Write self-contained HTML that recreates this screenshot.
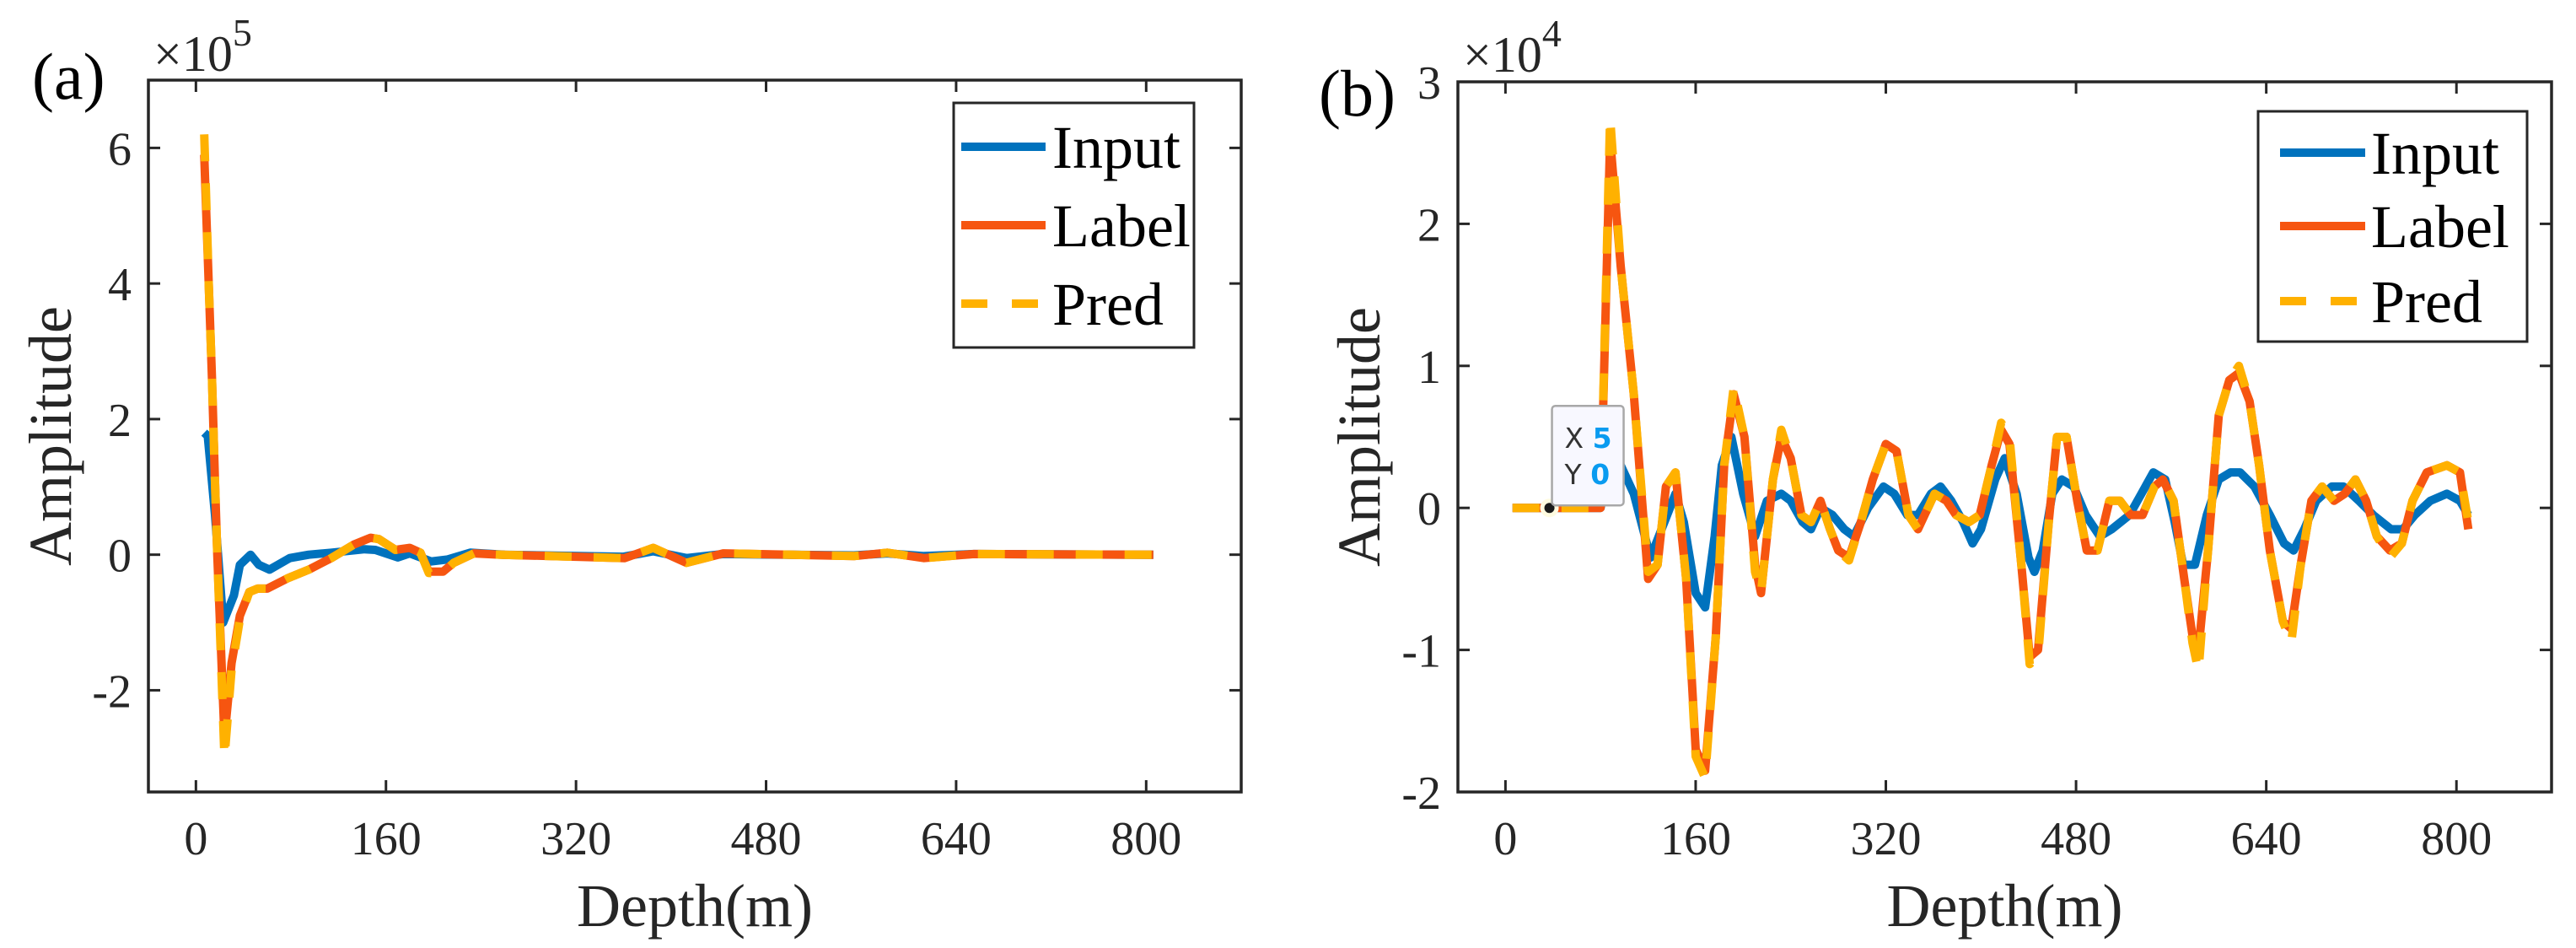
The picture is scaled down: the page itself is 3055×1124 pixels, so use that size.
<!DOCTYPE html>
<html><head><meta charset="utf-8"><style>
html,body{margin:0;padding:0;background:#fff;}
svg{display:block;font-family:"Liberation Serif",serif;}
</style></head>
<body>
<svg id="fig" width="3055" height="1124" viewBox="0 0 3055 1124" xmlns="http://www.w3.org/2000/svg"></svg>
<script>
// ---------- Panel (a) data (units of 1e5) ----------
const depthInputA = [7,10,16,23,32,37,46,53,62,79,95,114,142,151,170,180,198,212,231,260,360,385,413,444,554,582,613,655,806];
const inputA      = [1.8,1.75,0.6,-1.0,-0.6,-0.15,0.0,-0.15,-0.22,-0.05,0,0.03,0.08,0.07,-0.04,0.02,-0.1,-0.07,0.03,0,-0.03,0.05,-0.05,0.01,-0.01,0.02,-0.02,0.01,0];
const depthLabelA = [7,11,13.5,16,18,24,30,37,45,52,60,77,95,114,133,147,154,168,180,189,196,208,217,234,257,361,385,413,444,554,582,613,655,806];
const labelA      = [5.9,3.9,2.6,1.1,0.0,-2.7,-1.6,-0.9,-0.55,-0.5,-0.5,-0.35,-0.22,-0.05,0.15,0.25,0.23,0.07,0.1,0.03,-0.25,-0.25,-0.12,0.02,0,-0.05,0.1,-0.12,0.02,-0.02,0.03,-0.05,0.01,0];
const predA       = [6.2,3.9,2.6,1.1,0.0,-3.0,-1.7,-0.95,-0.55,-0.5,-0.5,-0.35,-0.22,-0.05,0.15,0.25,0.23,0.07,0.1,0.03,-0.27,-0.27,-0.12,0.02,0,-0.05,0.1,-0.12,0.02,-0.02,0.03,-0.05,0.01,0];
const yTicksA = [-2,0,2,4,6];
const xTicks  = [0,160,320,480,640,800];

// ---------- Panel (b) data (units of 1e4) ----------
const depthInputB = [6,80,88,97,108,122,143,150,160,168,176,182,190,200,210,220,232,240,250,257,265,275,285,293,305,318,327,338,347,358,366,375,385,393,400,412,420,430,440,445,452,460,468,478,488,500,510,525,535,545,555,563,570,580,590,600,610,618,630,643,655,663,672,682,695,705,718,730,745,755,765,778,792,803,810];
const inputB      = [0,0,0.35,0.3,0.1,-0.35,0.1,-0.1,-0.6,-0.7,-0.2,0.3,0.5,0.1,-0.2,0.05,0.1,0.05,-0.1,-0.15,0,-0.05,-0.15,-0.2,0,0.15,0.1,-0.05,-0.05,0.1,0.15,0.05,-0.1,-0.25,-0.15,0.2,0.35,0.1,-0.35,-0.45,-0.3,0.1,0.2,0.15,-0.05,-0.2,-0.15,-0.05,0.1,0.25,0.2,-0.1,-0.4,-0.4,-0.05,0.2,0.25,0.25,0.15,-0.05,-0.25,-0.3,-0.15,0.05,0.15,0.15,0.05,-0.05,-0.15,-0.15,-0.05,0.05,0.1,0.05,-0.05];
const depthLabelB = [6,80,88,97,108,120,128,135,143,152,160,168,177,184,192,201,210,215,225,232,240,249,257,265,273,280,289,299,309,320,329,339,347,361,371,379,390,399,409,417,424,434,441,448,457,464,472,481,489,498,508,517,526,536,546,553,562,571,578,583,591,600,609,617,626,634,643,654,661,669,678,687,697,706,715,724,733,744,754,763,775,792,803,810];
const labelB      = [0,0,2.6,1.7,0.8,-0.5,-0.4,0.15,0.25,-0.5,-1.7,-1.85,-0.9,0.3,0.8,0.5,-0.4,-0.6,0.2,0.5,0.35,-0.05,-0.1,0.05,-0.15,-0.3,-0.35,-0.1,0.2,0.45,0.4,-0.05,-0.15,0.1,0.05,-0.05,-0.1,-0.05,0.3,0.55,0.45,-0.4,-1.05,-1.0,-0.1,0.5,0.5,0.05,-0.3,-0.3,0.05,0.05,-0.05,-0.05,0.15,0.2,0.05,-0.5,-0.9,-1.0,-0.3,0.65,0.9,0.95,0.75,0.3,-0.3,-0.8,-0.85,-0.4,0.05,0.15,0.05,0.1,0.2,0.05,-0.2,-0.3,-0.25,0.05,0.25,0.3,0.25,-0.15];
const predB       = [0,0,2.75,1.7,0.8,-0.45,-0.4,0.15,0.25,-0.5,-1.75,-1.9,-0.9,0.3,0.85,0.5,-0.45,-0.6,0.2,0.55,0.35,-0.05,-0.1,0.05,-0.15,-0.3,-0.37,-0.1,0.2,0.45,0.4,-0.05,-0.15,0.1,0.05,-0.05,-0.1,-0.05,0.3,0.6,0.5,-0.4,-1.1,-1.05,-0.1,0.5,0.5,0.05,-0.3,-0.3,0.05,0.05,-0.05,-0.05,0.15,0.2,0.05,-0.5,-0.95,-1.15,-0.3,0.65,0.9,1.0,0.75,0.3,-0.3,-0.8,-0.95,-0.4,0.05,0.15,0.05,0.1,0.2,0.05,-0.2,-0.35,-0.25,0.05,0.25,0.3,0.25,-0.1];
const yTicksB = [-2,-1,0,1,2,3];

const NS = "http://www.w3.org/2000/svg";
const SERIF = '"Liberation Serif", serif';
const SANS = '"DejaVu Sans", "Liberation Sans", sans-serif';
const svg = document.getElementById('fig');
function mk(tag, attrs, parent, text){
  const e = document.createElementNS(NS, tag);
  for (const k in attrs) e.setAttribute(k, attrs[k]);
  if (tag === 'text' && !attrs['font-family']) e.setAttribute('font-family', SERIF);
  if (text !== undefined) e.textContent = text;
  (parent || svg).appendChild(e);
  return e;
}

function panel(cfg){
  const g = mk('g', {});
  
  
  const xs = v => cfg.x0 + (v - cfg.xmin) / (cfg.xmax - cfg.xmin) * (cfg.x1 - cfg.x0);
  const ys = v => cfg.y1 - (v - cfg.ymin) / (cfg.ymax - cfg.ymin) * (cfg.y1 - cfg.y0);

  const clipId = cfg.name + '-clip';
  const defs = mk('defs', {}, g);
  const cp = mk('clipPath', {id: clipId}, defs);
  mk('rect', {x: cfg.x0, y: cfg.y0, width: cfg.x1 - cfg.x0, height: cfg.y1 - cfg.y0}, cp);
  const series = [
    {n:'input-line', xs: cfg.dIn, ys: cfg.input, c:'#0072BD', dash:null},
    {n:'label-line', xs: cfg.dLab, ys: cfg.label, c:'#F65510', dash:null},
    {n:'pred-line',  xs: cfg.dLab, ys: cfg.pred, c:'#FFB100', dash:'32 26'}
  ];
  series.forEach(s => {
    let d = '';
    for (let i = 0; i < s.xs.length; i++) d += (i ? 'L' : 'M') + xs(s.xs[i]).toFixed(1) + ',' + ys(s.ys[i]).toFixed(1);
    const p = mk('path', {d: d, fill: 'none', stroke: s.c, 'stroke-width': 10, 'stroke-linejoin': 'round', 'clip-path': 'url(#' + clipId + ')'}, g);
    if (s.dash) p.setAttribute('stroke-dasharray', s.dash);
    
    
  });

  const fr = mk('rect', {x: cfg.x0, y: cfg.y0, width: cfg.x1 - cfg.x0, height: cfg.y1 - cfg.y0, fill: 'none', stroke: '#262626', 'stroke-width': 3.5}, g);
  
  

  xTicks.forEach(t => {
    const x = xs(t);
    mk('line', {x1: x, y1: cfg.y1, x2: x, y2: cfg.y1 - 14, stroke: '#262626', 'stroke-width': 3}, g);
    mk('line', {x1: x, y1: cfg.y0, x2: x, y2: cfg.y0 + 14, stroke: '#262626', 'stroke-width': 3}, g);
    const tl = mk('text', {x: x, y: cfg.y1 + 74, 'text-anchor': 'middle', 'font-size': 56, fill: '#262626'}, g, String(t));
    
    
  });
  cfg.yTicks.forEach(t => {
    const y = ys(t);
    mk('line', {x1: cfg.x0, y1: y, x2: cfg.x0 + 14, y2: y, stroke: '#262626', 'stroke-width': 3}, g);
    mk('line', {x1: cfg.x1, y1: y, x2: cfg.x1 - 14, y2: y, stroke: '#262626', 'stroke-width': 3}, g);
    const tl = mk('text', {x: cfg.x0 - 20, y: y + 20, 'text-anchor': 'end', 'font-size': 56, fill: '#262626'}, g, String(t));
    
    
  });

  const xt = mk('text', {x: (cfg.x0 + cfg.x1) / 2, y: 1098, 'text-anchor': 'middle', 'font-size': 72, fill: '#262626'}, g, 'Depth(m)');
  
  
  const yt = mk('text', {x: 0, y: 0, 'text-anchor': 'middle', 'font-size': 72, fill: '#262626', transform: 'translate(' + cfg.ylabX + ',' + ((cfg.y0 + cfg.y1) / 2) + ') rotate(-90)'}, g, 'Amplitude');
  
  

  const ex = mk('text', {x: cfg.x0 + 6, y: cfg.expY, 'font-size': 60, fill: '#262626'}, g);
  
  
  mk('tspan', {}, ex, '\u00D710');
  mk('tspan', {dy: -30, 'font-size': 46}, ex, cfg.exp);

  const pl = mk('text', {x: cfg.letterX, y: cfg.letterY, 'font-size': 78, fill: '#000'}, g, cfg.letter);
  
  

  const L = cfg.leg;
  const lg = mk('g', {}, g);
  
  
  mk('rect', {x: L.x0, y: L.y0, width: L.x1 - L.x0, height: L.y1 - L.y0, fill: '#fff', stroke: '#262626', 'stroke-width': 3}, lg);
  const names = ['Input', 'Label', 'Pred'];
  const cols = ['#0072BD', '#F65510', '#FFB100'];
  names.forEach((n, i) => {
    const y = L.ys[i];
    const e = mk('g', {}, lg);
    
    
    const ln = mk('line', {x1: L.lx0, y1: y, x2: L.lx1, y2: y, stroke: cols[i], 'stroke-width': 10}, e);
    if (i === 2) ln.setAttribute('stroke-dasharray', '31 29');
    mk('text', {x: L.tx, y: y + 25, 'font-size': 72, fill: '#000'}, e, n);
  });
  return {g, xs, ys};
}

panel({name:'panel-a', x0:176, x1:1472, y0:95, y1:939, xmin:-40, xmax:880, ymin:-3.5, ymax:7,
  dIn: depthInputA, input: inputA, dLab: depthLabelA, label: labelA, pred: predA, yTicks: yTicksA,
  ylabX: 84, expY: 84, exp: '5', letter: '(a)', letterX: 38, letterY: 117,
  leg: {x0:1131, x1:1416, y0:122, y1:412, ys:[174,267,360], lx0:1140, lx1:1240, tx:1248}});

const pb = panel({name:'panel-b', x0:1729, x1:3026, y0:97, y1:939, xmin:-40, xmax:880, ymin:-2, ymax:3,
  dIn: depthInputB, input: inputB, dLab: depthLabelB, label: labelB, pred: predB, yTicks: yTicksB,
  ylabX: 1636, expY: 85, exp: '4', letter: '(b)', letterX: 1564, letterY: 137,
  leg: {x0:2678, x1:2997, y0:132, y1:405, ys:[181,268,357], lx0:2704, lx1:2805, tx:2812}});

const tipDepth = 37, tipVal = 0;
const tip = mk('g', {});


const dx = pb.xs(tipDepth), dy = pb.ys(tipVal);
mk('circle', {cx: dx, cy: dy, r: 11, fill: '#FFFBE0'}, tip);
mk('circle', {cx: dx, cy: dy, r: 6, fill: '#1a1a1a'}, tip);
mk('rect', {x: dx + 3, y: dy - 121, width: 85, height: 118, rx: 4, fill: '#F8F8FF', stroke: '#A8A8A8', 'stroke-width': 2.5}, tip);
const t1 = mk('text', {x: dx + 18, y: dy - 71, 'font-family': SANS, style: 'font-family:' + SANS, 'font-size': 33, fill: '#333'}, tip);
mk('tspan', {}, t1, 'X ');
mk('tspan', {fill: '#0A9BF0', 'font-weight': 'bold'}, t1, '5');
const t2 = mk('text', {x: dx + 18, y: dy - 28, 'font-family': SANS, style: 'font-family:' + SANS, 'font-size': 33, fill: '#333'}, tip);
mk('tspan', {}, t2, 'Y ');
mk('tspan', {fill: '#0A9BF0', 'font-weight': 'bold'}, t2, '0');
</script>
</body></html>
